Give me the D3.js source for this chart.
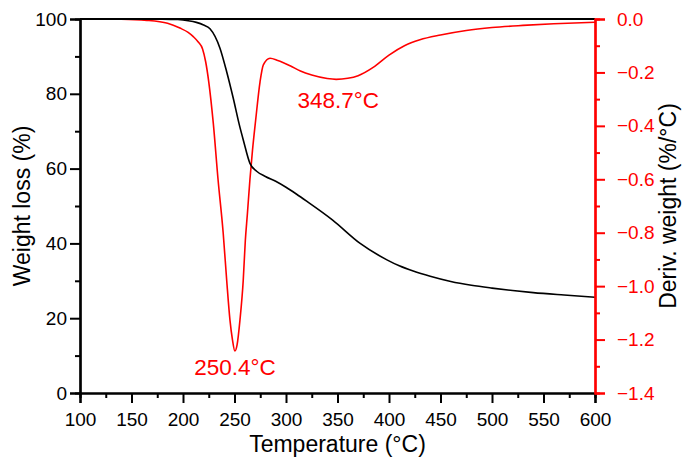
<!DOCTYPE html>
<html>
<head>
<meta charset="utf-8">
<script src="https://cdn.jsdelivr.net/npm/d3@7"></script>
<style>
  body { margin: 0; background: #fff; }
  svg text { font-family: Arial, "Liberation Sans", sans-serif; }
</style>
</head>
<body>
<svg id="chart"></svg>
<script>
// TGA weight curve (temperature in °C, weight in %)
const weightTemp = [100, 150, 180, 195, 205, 213, 220, 226.2, 235.9, 242.4, 248.8, 254.7, 258.6, 265, 271.5,
  280, 290, 300, 310, 320, 345, 372, 398, 410, 423.5, 440, 460, 480, 500, 520, 540, 570, 600];
const weightVal = [100, 100, 99.97, 99.85, 99.55, 99.1, 98.4, 97.4, 92.2, 85.9, 78.8, 71.7, 67.6, 61.4, 59.3,
  57.9, 56.6, 55.0, 53.2, 51.3, 46.3, 40, 35.6, 34.0, 32.6, 31.2, 29.8, 28.8, 28.05, 27.4, 26.85, 26.2, 25.6];

// DTG derivative curve (%/°C)
const derivTemp = [100, 140, 165, 185, 197, 205, 210, 215, 219, 222, 225, 229.4, 234, 239, 242.4, 245.6, 248,
  250.4, 252.5, 255.3, 258.5, 260.5, 262.5, 265, 267.5, 270.5, 274.8, 278, 284.5, 292, 304, 314, 325, 340,
  348.7, 360, 370, 385, 400, 415, 430, 450, 475, 500, 530, 560, 600];
const derivVal = [0, -0.001, -0.005, -0.016, -0.034, -0.05, -0.066, -0.087, -0.112, -0.16, -0.235, -0.39,
  -0.6, -0.8, -0.977, -1.127, -1.2, -1.243, -1.22, -1.127, -0.977, -0.83, -0.73, -0.6, -0.49, -0.38, -0.235,
  -0.172, -0.147, -0.155, -0.175, -0.195, -0.21, -0.223, -0.226, -0.222, -0.212, -0.18, -0.135, -0.1,
  -0.078, -0.06, -0.043, -0.032, -0.024, -0.018, -0.012];

// ticks
const xMajor = [100, 150, 200, 250, 300, 350, 400, 450, 500, 550, 600];
const xMinor = [125, 175, 225, 275, 325, 375, 425, 475, 525, 575];
const yMajor = [0, 20, 40, 60, 80, 100];
const yMinor = [10, 30, 50, 70, 90];
const y2Major = [0, -0.2, -0.4, -0.6, -0.8, -1.0, -1.2, -1.4];
const y2Minor = [-0.1, -0.3, -0.5, -0.7, -0.9, -1.1, -1.3];

// peak labels
const peakTemps = [250.4, 348.7];
const peakLabels = ['250.4°C', '348.7°C'];
const peakDeriv = [-1.243, -0.226];

const W = 691, H = 469;
const margin = { top: 19, right: 96, bottom: 76, left: 80 };
const width = W - margin.left - margin.right;
const height = H - margin.top - margin.bottom;
const RED = '#ff0000';

const svg = d3.select('#chart').attr('width', W).attr('height', H);
const g = svg.append('g').attr('transform', `translate(${margin.left},${margin.top})`);

const x = d3.scaleLinear().domain([100, 600]).range([0, width]);
const y = d3.scaleLinear().domain([0, 100]).range([height, 0]);
const y2 = d3.scaleLinear().domain([-1.4, 0]).range([height, 0]);

// curves
const weightLine = d3.line()
  .x((d, i) => x(weightTemp[i]))
  .y(d => y(d))
  .curve(d3.curveMonotoneX);

const derivLine = d3.line()
  .x((d, i) => x(derivTemp[i]))
  .y(d => y2(d))
  .curve(d3.curveMonotoneX);

g.append('path')
  .attr('d', derivLine(derivVal))
  .attr('fill', 'none')
  .attr('stroke', RED)
  .attr('stroke-width', 1.6);

g.append('path')
  .attr('d', weightLine(weightVal))
  .attr('fill', 'none')
  .attr('stroke', '#000')
  .attr('stroke-width', 1.6);

// top frame line
g.append('line')
  .attr('x1', 0).attr('x2', width)
  .attr('y1', 0).attr('y2', 0)
  .attr('stroke', '#000')
  .attr('stroke-width', 2.2);

function styleAxis(sel, color, fontSize) {
  sel.select('.domain').attr('stroke', color).attr('stroke-width', 2.2);
  sel.selectAll('.tick line').attr('stroke', color).attr('stroke-width', 2);
  sel.selectAll('.tick text').attr('fill', color).style('font-size', fontSize + 'px');
}

// x axis
const xAxisG = g.append('g').attr('transform', `translate(0,${height})`);
xAxisG.append('g')
  .call(d3.axisBottom(x).tickValues(xMinor).tickSize(5).tickFormat(''))
  .call(s => styleAxis(s, '#000', 19));
xAxisG.append('g')
  .call(d3.axisBottom(x).tickValues(xMajor).tickSize(10).tickPadding(10).tickFormat(d3.format('d')))
  .call(s => styleAxis(s, '#000', 19));

// left axis
const yAxisG = g.append('g');
yAxisG.append('g')
  .call(d3.axisLeft(y).tickValues(yMinor).tickSize(5).tickFormat(''))
  .call(s => styleAxis(s, '#000', 19));
yAxisG.append('g')
  .call(d3.axisLeft(y).tickValues(yMajor).tickSize(10).tickPadding(3).tickFormat(d3.format('d')))
  .call(s => styleAxis(s, '#000', 19));

// right axis
const y2AxisG = g.append('g').attr('transform', `translate(${width},0)`);
y2AxisG.append('g')
  .call(d3.axisRight(y2).tickValues(y2Minor).tickSize(5).tickFormat(''))
  .call(s => styleAxis(s, RED, 19));
y2AxisG.append('g')
  .call(d3.axisRight(y2).tickValues(y2Major).tickSize(10).tickPadding(12).tickFormat(d3.format('.1f')))
  .call(s => styleAxis(s, RED, 19));

// axis titles
svg.append('text')
  .attr('x', margin.left + width / 2)
  .attr('y', 452)
  .attr('text-anchor', 'middle')
  .style('font-size', '23px')
  .text('Temperature (°C)');

svg.append('text')
  .attr('transform', `translate(30,${margin.top + height / 2}) rotate(-90)`)
  .attr('text-anchor', 'middle')
  .style('font-size', '23px')
  .text('Weight loss (%)');

svg.append('text')
  .attr('transform', `translate(676,${margin.top + height / 2}) rotate(-90)`)
  .attr('text-anchor', 'middle')
  .style('font-size', '23px')
  .text('Deriv. weight (%/°C)');

// peak annotations
const labelDy = [24, 29];
const labelDx = [0, 2];
peakTemps.forEach((t, i) => {
  g.append('text')
    .attr('x', x(t) + labelDx[i])
    .attr('y', y2(peakDeriv[i]) + labelDy[i])
    .attr('text-anchor', 'middle')
    .attr('fill', RED)
    .style('font-size', '22.5px')
    .text(peakLabels[i]);
});
</script>
</body>
</html>
